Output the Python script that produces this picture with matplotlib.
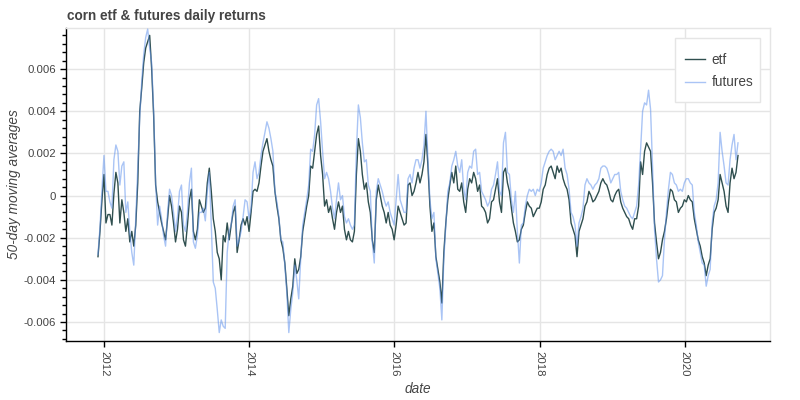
import matplotlib
matplotlib.use("Agg")
import matplotlib.pyplot as plt
import matplotlib.dates as mdates
from matplotlib.ticker import FixedLocator, MultipleLocator, FuncFormatter
from matplotlib.patches import Rectangle
import pandas as pd
import numpy as np

plt.rcParams['font.family'] = ['Liberation Sans', 'DejaVu Sans']

title = "corn etf & futures daily returns"
x_label = "date"
y_label = "50-day moving averages"
series_names = ["etf", "futures"]

# 50-day moving averages, in units of 1e-3, sampled every 10 days from 2011-12-02
etf_milli = [
    -2.9, -1.7, -0.2, 1.0, -1.3, -0.9, -0.9, -1.4, 0.1, 1.1,
    0.6, -1.3, -0.2, -0.8, -1.7, -1.1, -2.2, -1.7, -2.4, -1.4,
    0.6, 4.0, 5.1, 6.3, 7.0, 7.3, 7.6, 6.0, 3.8, 0.5,
    -0.3, -0.8, -1.3, -1.7, -2.1, -1.1, 0.0, -0.5, -1.3, -2.2,
    -1.6, -0.5, -0.8, -2.1, -2.4, -1.4, -0.2, 0.3, -1.7, -2.1,
    -1.6, -0.2, -0.5, -0.8,
    -0.6, 0.6, 1.3, 0.2, -1.1, -1.7,
    -2.7, -3.0, -4.0, -1.9, -2.2, -1.3, -2.1, -1.4, -0.8, -0.5,
    -2.7, -2.1, -1.4, -1.1, -1.4, -1.0, -1.7, -0.8, 0.2, 0.3,
    0.2, 0.6, 1.4, 2.1, 2.4, 2.7, 2.1, 1.7, 1.4, 0.2,
    -0.5, -1.1, -2.1, -2.5, -3.2, -4.4, -5.7, -4.9, -4.3, -3.0,
    -3.7, -3.5, -2.9, -1.7, -1.1, -0.5, 0.0, 1.4,
    1.3, 2.1,
    2.9, 3.3, 1.9, 1.0, -0.5, -0.2, -0.8, -0.5, -1.1, -1.6,
    -0.8, -0.3, -0.8, -0.5, -1.6, -2.1, -1.7, -2.1, -2.2, -1.7,
    1.0, 2.7, 2.1, 1.0, 0.3, 0.6, -0.3, -0.8, -2.1, -2.7,
    -0.2, 0.5, 0.0, -0.5, -0.8, -1.3, -0.8, -1.4, -1.6, -2.1,
    -1.4, -0.5, -0.8, -1.1, -1.4, -1.3, 0.5, 0.6, 0.0, 0.2,
    0.6, 1.1,
    0.6, 1.0, 1.6, 2.9, 1.4, -0.5, -1.7, -1.3,
    -2.9, -3.5, -4.1, -5.1, -2.7, -1.3, -0.2, 0.5, 1.1, 0.6,
    1.4, 0.3, 0.2, 0.6, -0.3, -0.8, 0.3, 0.8, 0.6, 1.1,
    0.8, 0.2, 0.5, -0.5, -0.6, -0.8, -1.3, -1.1, -0.3, -0.2,
    0.3, 0.8, -0.3, -0.8, 1.1, 1.3, 0.6, 0.2, -0.6, -1.3,
    -1.7, -2.2, -2.1, -1.6, -1.4, -0.8, -0.3,
    -0.5, -0.6, -1.0,
    -0.8, -0.6, -0.6, -0.3, 0.3, 0.5, 1.0, 1.3, 1.4, 1.1,
    0.8, 1.4, 1.1, 1.3, 0.8, 0.5, 0.3, -0.2, -1.3, -1.6,
    -1.9, -2.9, -1.7, -1.4, -1.1, -0.5, -0.3, 0.2, 0.0, -0.3,
    -0.2, 0.0, 0.2, 0.6, 0.8, 0.6, 0.5, 0.2, -0.2, -0.3,
    0.0, 0.2, 0.3, -0.3, -0.6, -0.8, -1.0, -1.1, -1.4, -1.6,
    -1.1,
    -1.1, -0.5, 1.6, 1.0, 2.1, 2.5, 2.3, 2.1, 0.6,
    -1.3, -2.2, -3.0, -2.7, -2.1, -1.7, -1.1, -0.3, 0.3, 0.2,
    -0.2, -0.3, -0.8, -0.6, -0.5, -0.2, -0.3, 0.0, -0.2, -0.3,
    -1.1, -1.6, -2.1, -2.4, -2.9, -3.2, -3.8, -3.3, -3.0, -1.6,
    -0.8, -0.6, -0.2, 1.0, 0.6, 0.2, -0.5, -0.8, 0.6, 1.3,
    0.8, 1.1, 1.9,
]

futures_milli = [
    -2.8, -1.5, 0.3, 1.9, 0.2, 0.2, -0.3, -0.6, 1.7, 2.4,
    2.1, 0.5, 1.4, 1.6, -0.8, -0.3, -1.7, -2.7, -3.3, -1.1,
    1.3, 3.7, 5.4, 6.7, 7.5, 7.9, 7.0, 6.3, 4.0, 0.6,
    -1.4, -0.5, -1.1, -1.9, -2.4, -0.8, 0.3, 0.0, -0.8, -1.7,
    -1.0, 0.2, 0.5, -1.4, -1.7, -0.8, 0.6, 1.3, -2.2, -2.5,
    -1.9, -0.8, -0.8, -0.6,
    -1.2, 0.2, 1.1, -1.4, -4.1, -4.4,
    -5.4, -6.5, -5.9, -6.2, -6.3, -2.7, -1.7, -1.4, -0.5, -0.2,
    -2.4, -2.1, -1.7, -1.0, -0.2, -0.3, -1.1, -0.6, 1.1, 1.6,
    0.8, 1.1, 1.9, 2.5, 3.0, 3.5, 3.2, 2.7, 2.1, 0.2,
    -0.3, -1.0, -2.1, -2.2, -3.3, -4.6, -6.5, -5.4, -4.6, -3.3,
    -4.0, -4.9, -3.0, -1.4, -0.8, -0.2, 0.5, 2.2,
    2.1, 2.9,
    4.3, 4.6, 3.5, 2.1, 0.8, 1.1, 0.8, 0.2, -0.6, -1.1,
    -0.2, 0.6, -0.2, 0.0, -1.0, -1.3, -1.1, -1.4, -1.6, -1.4,
    2.1, 4.3, 3.7, 2.5, 1.6, 1.7, 0.5, 0.2, -2.2, -3.2,
    0.2, 0.8, 0.5, 0.2, -0.2, -0.5, -0.3, -0.8, -1.1, -1.4,
    -0.2, 1.0, -0.2, -0.5, -0.8, -0.8, 0.8, 1.0, 0.6, 1.3,
    1.7, 1.7,
    1.3, 1.7, 2.4, 4.0, 1.7, -0.2, -1.1, -0.8,
    -3.0, -3.7, -4.4, -5.9, -3.0, -1.4, 0.2, 0.6, 1.4, 1.7,
    2.1, 1.4, 1.1, 1.7, 0.3, -0.2, 1.1, 1.4, 1.3, 2.1,
    2.2, 1.0, 1.1, 0.2, 0.0, -0.2, -0.5, -0.3, 0.3, 0.5,
    1.0, 1.6, 0.2, 0.0, 2.5, 3.0, 1.1, 1.0, -0.2, -0.8,
    0.2, -1.7, -3.2, -1.4, -1.3, -0.5, 0.0,
    0.3, 0.2, 0.3,
    0.0, 0.3, 0.2, 0.6, 1.3, 1.6, 1.9, 2.1, 2.2, 2.1,
    1.7, 1.9, 2.1, 1.9, 2.2, 1.3, 1.0, 0.3, -0.8, -1.0,
    -1.4, -2.4, -1.3, -1.0, -0.6, 0.5, 0.8, 0.6, 0.5, 0.3,
    0.5, 0.6, 0.8, 1.3, 1.4, 1.4, 1.3, 1.0, 0.6, 0.8,
    1.0, 1.0, 1.1, 0.2, -0.2, -0.5, -0.6, -0.8, -1.0, -1.1,
    -0.8,
    -0.5, 0.5, 2.2, 4.0, 4.4, 4.3, 5.0, 4.1, 1.4,
    -1.6, -3.0, -4.1, -4.0, -3.8, -2.1, -0.8, 0.3, 1.1, 1.0,
    0.6, 0.5, 0.2, 0.3, 0.2, 0.6, 0.8, 0.8, 0.6, 0.5,
    -0.8, -1.4, -2.2, -2.7, -3.2, -3.3, -4.3, -3.8, -3.5, -1.3,
    -0.5, -0.2, 0.6, 3.0, 2.1, 1.4, 0.6, 0.5, 1.7, 2.4,
    2.9, 1.7, 2.5,
]

start_date = "2011-12-02"
step = "10D"
x_tick_years = ["2012", "2014", "2016", "2018", "2020"]
y_ticks = [-0.006, -0.004, -0.002, 0.0, 0.002, 0.004, 0.006]

dates = pd.date_range(start_date, periods=len(etf_milli), freq=step)
dates_f = pd.date_range(start_date, periods=len(futures_milli), freq=step)
etf = np.array(etf_milli) * 1e-3
futures = np.array(futures_milli) * 1e-3

TEXT = "#444444"
GRID = "#e5e5e5"

fig = plt.figure(figsize=(8, 4), dpi=100)
ax = fig.add_axes([66 / 800, 59 / 400, 704 / 800, 313 / 400])

ax.plot(dates, etf, color="#2F4F4F", lw=1.0, label=series_names[0], zorder=3)
ax.plot(dates_f, futures, color="#6495ED", lw=1.0, alpha=0.55,
        label=series_names[1], zorder=4)

ax.set_xlim(pd.Timestamp("2011-06-24"), pd.Timestamp("2021-03-05"))
ax.set_ylim(-0.0069, 0.00795)

ax.xaxis.set_major_locator(FixedLocator(
    [mdates.date2num(pd.Timestamp(y + "-01-01")) for y in x_tick_years]))
ax.xaxis.set_major_formatter(FuncFormatter(lambda v, p: mdates.num2date(v).strftime("%Y")))
ax.yaxis.set_major_locator(FixedLocator(y_ticks))
ax.yaxis.set_minor_locator(MultipleLocator(0.0004))
ax.yaxis.set_major_formatter(FuncFormatter(lambda v, p: "%g" % round(v, 6) if abs(v) > 1e-12 else "0"))

ax.grid(True, which="major", color=GRID, lw=1.0, zorder=0)
ax.set_axisbelow(True)

for s in ["top", "right"]:
    ax.spines[s].set_color(GRID)
    ax.spines[s].set_linewidth(1.0)
for s in ["left", "bottom"]:
    ax.spines[s].set_color("black")
    ax.spines[s].set_linewidth(1.0)

ax.tick_params(axis="both", which="major", direction="out", length=4.3, width=1,
               color="black", labelcolor=TEXT, labelsize=8.2, pad=3)
ax.tick_params(axis="y", which="minor", direction="out", length=2.9, width=1, color="black")
for lbl in ax.get_xticklabels():
    lbl.set_rotation(-90)
    lbl.set_va("top")
    lbl.set_ha("center")

ax.set_xlabel(x_label, fontsize=9.8, style="italic", color=TEXT, labelpad=4)
ax.set_ylabel(y_label, fontsize=9.8, style="italic", color=TEXT, labelpad=1.5)

fig.text(67 / 800, 1 - 16 / 400, title, fontsize=9.8, fontweight="bold",
         color=TEXT, va="center", ha="left")

# legend frame (Bokeh-style box) and entries
frame = Rectangle((675 / 800, 1 - 102 / 400), 85 / 800, 64 / 400,
                  transform=fig.transFigure, facecolor="white", edgecolor=GRID,
                  lw=1.0, zorder=10, clip_on=False)
ax.add_patch(frame)
leg = ax.legend(loc="upper left", bbox_to_anchor=(685 / 800, 1 - 53 / 400),
                bbox_transform=fig.transFigure, borderaxespad=0, borderpad=0,
                fontsize=9.8, frameon=False,
                handlelength=1.5, handletextpad=0.45, labelspacing=0.62)
leg.set_zorder(11)
for t in leg.get_texts():
    t.set_color(TEXT)
for h in leg.get_lines():
    h.set_linewidth(1.0)

fig.savefig("out.png", dpi=100, facecolor="white")
